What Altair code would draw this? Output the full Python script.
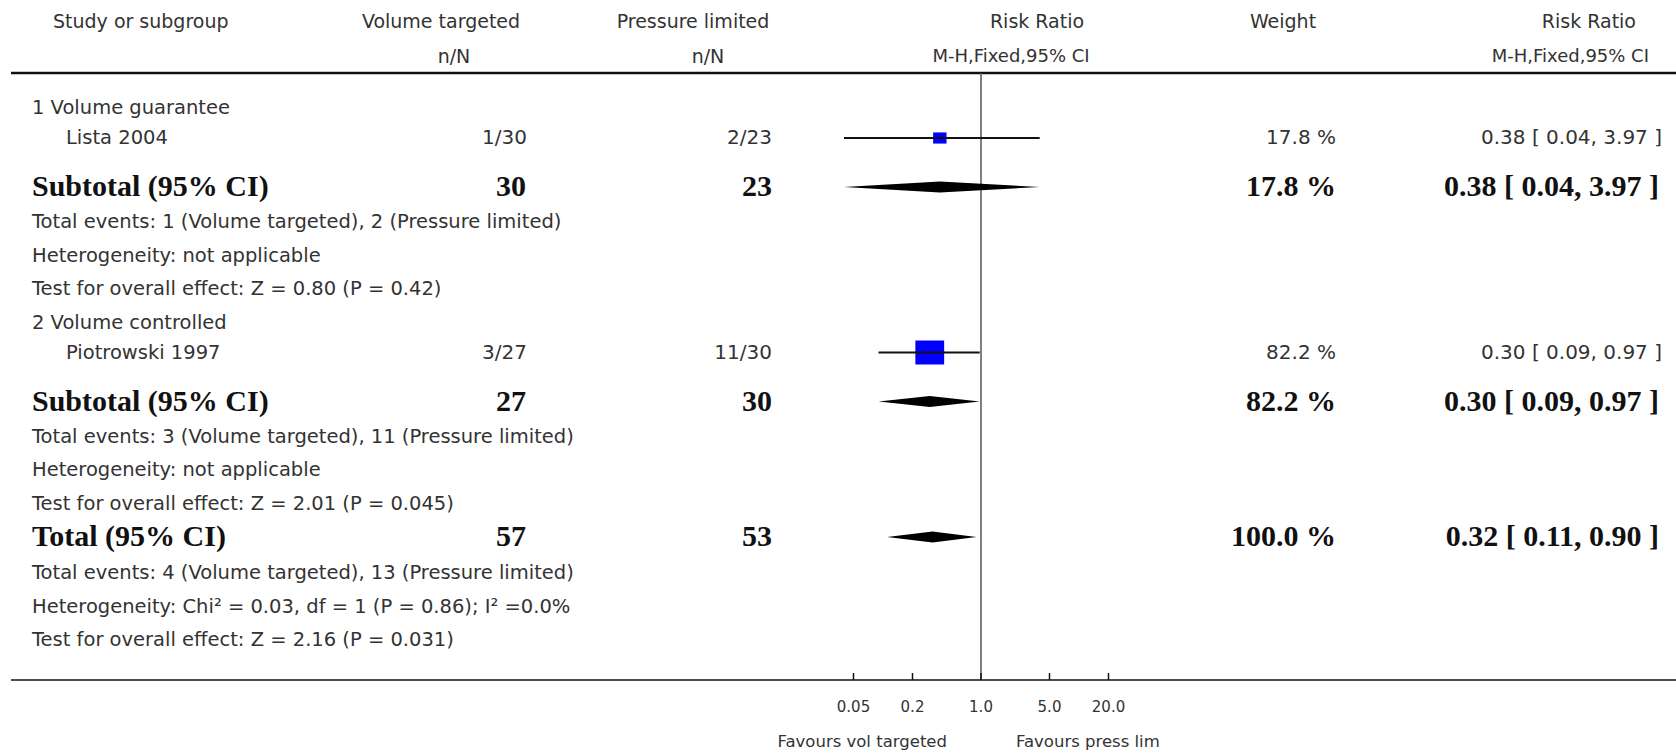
import altair as alt
import pandas as pd

W, H = 1676, 753

# ---------------- data ----------------
group_labels = ["1 Volume guarantee", "2 Volume controlled"]
study_labels = ["Lista 2004", "Piotrowski 1997"]
vt_events = [1, 3]
vt_totals = [30, 27]
pl_events = [2, 11]
pl_totals = [23, 30]
study_rr = [0.38, 0.30]
study_lo = [0.04, 0.09]
study_hi = [3.97, 0.97]
study_weight = [17.8, 82.2]

sub_vt_n = [30, 27]
sub_pl_n = [23, 30]
sub_rr = [0.38, 0.30]
sub_lo = [0.04, 0.09]
sub_hi = [3.97, 0.97]
sub_weight = [17.8, 82.2]
sub_notes = [
    ["Total events: 1 (Volume targeted), 2 (Pressure limited)",
     "Heterogeneity: not applicable",
     "Test for overall effect: Z = 0.80 (P = 0.42)"],
    ["Total events: 3 (Volume targeted), 11 (Pressure limited)",
     "Heterogeneity: not applicable",
     "Test for overall effect: Z = 2.01 (P = 0.045)"],
]
total_vt_n = 57
total_pl_n = 53
total_rr = 0.32
total_lo = 0.11
total_hi = 0.90
total_weight = 100.0
total_notes = [
    "Total events: 4 (Volume targeted), 13 (Pressure limited)",
    "Heterogeneity: Chi\u00b2 = 0.03, df = 1 (P = 0.86); I\u00b2 =0.0%",
    "Test for overall effect: Z = 2.16 (P = 0.031)",
]
axis_ticks = [0.05, 0.2, 1.0, 5.0, 20.0]
axis_tick_labels = ["0.05", "0.2", "1.0", "5.0", "20.0"]
favours_left = "Favours vol targeted"
favours_right = "Favours press lim"

# ---------------- layout ----------------
SANS = "DejaVu Sans"
SERIF = "Liberation Serif"
FH = 19      # header text
FS = 19.5    # note text
FN = 20      # small numbers in study rows
FB = 30      # bold serif
TXT = "#333333"
BOLD = "#111111"

Y_H1, Y_H2, Y_TOP, Y_AXIS = 22, 57, 73, 680
Y_TICKLAB, Y_FAV = 707, 742

def ci_text(r, lo, hi):
    return f"{r:.2f} [ {lo:.2f}, {hi:.2f} ]"

left_rows, study_rows, bold_label_rows = [], [], []
vt_small, pl_small, w_small, rr_small = [], [], [], []
vt_bold, pl_bold, w_bold, rr_bold = [], [], [], []
squares, cis, diamonds = [], [], []

y = 108
for g in range(2):
    left_rows.append((y, group_labels[g])); y += 30
    study_rows.append((y, study_labels[g]))
    vt_small.append((y, f"{vt_events[g]}/{vt_totals[g]}"))
    pl_small.append((y, f"{pl_events[g]}/{pl_totals[g]}"))
    w_small.append((y, f"{study_weight[g]:.1f} %"))
    rr_small.append((y, ci_text(study_rr[g], study_lo[g], study_hi[g])))
    squares.append({"x": study_rr[g], "y": y, "w": study_weight[g]})
    cis.append({"lo": study_lo[g], "hi": study_hi[g], "y": y})
    y += 49
    bold_label_rows.append((y, "Subtotal (95% CI)"))
    vt_bold.append((y, str(sub_vt_n[g])))
    pl_bold.append((y, str(sub_pl_n[g])))
    w_bold.append((y, f"{sub_weight[g]:.1f} %"))
    rr_bold.append((y, ci_text(sub_rr[g], sub_lo[g], sub_hi[g])))
    diamonds.append((f"s{g}", sub_lo[g], sub_rr[g], sub_hi[g], y))
    y += 35
    for note in sub_notes[g]:
        left_rows.append((y, note)); y += 33.5
bold_label_rows.append((y, "Total (95% CI)"))
vt_bold.append((y, str(total_vt_n)))
pl_bold.append((y, str(total_pl_n)))
w_bold.append((y, f"{total_weight:.1f} %"))
rr_bold.append((y, ci_text(total_rr, total_lo, total_hi)))
diamonds.append(("tot", total_lo, total_rr, total_hi, y))
y += 36
for note in total_notes:
    left_rows.append((y, note)); y += 33.5

# x: log scale, 1.0 at x=981 px, ~98 px per decade
X1, PPD = 981, 98.0
xscale = alt.Scale(type="log", domain=[10 ** (-X1 / PPD), 10 ** ((W - X1) / PPD)], nice=False)
yscale = alt.Scale(domain=[0, H], reverse=True, nice=False, zero=False)


def tdf(rows):
    return pd.DataFrame(rows, columns=["y", "text"])


def text_layer(rows, x, align, font=SANS, size=FS, weight="normal", color=TXT):
    return alt.Chart(tdf(rows)).mark_text(
        align=align, baseline="middle", font=font, fontSize=size,
        fontWeight=weight, color=color
    ).encode(
        x=alt.value(x),
        y=alt.Y("y:Q", scale=yscale, axis=None),
        text="text:N",
    )


layers = []

# headers
layers += [
    text_layer([(Y_H1, "Study or subgroup")], 53, "left", size=FH),
    text_layer([(Y_H1, "Volume targeted")], 441, "center", size=FH),
    text_layer([(Y_H2, "n/N")], 454, "center", size=FH),
    text_layer([(Y_H1, "Pressure limited")], 693, "center", size=FH),
    text_layer([(Y_H2, "n/N")], 708, "center", size=FH),
    text_layer([(Y_H1, "Risk Ratio")], 1037, "center", size=FH),
    text_layer([(Y_H2, "M-H,Fixed,95% CI")], 1011, "center", size=18),
    text_layer([(Y_H1, "Weight")], 1283, "center", size=FH),
    text_layer([(Y_H1, "Risk Ratio")], 1636, "right", size=FH),
    text_layer([(Y_H2, "M-H,Fixed,95% CI")], 1649, "right", size=18),
]

# horizontal lines
layers.append(
    alt.Chart(pd.DataFrame({"y": [Y_TOP]})).mark_rule(color="#111", strokeWidth=2.5).encode(
        x=alt.value(11), x2=alt.value(W), y=alt.Y("y:Q", scale=yscale, axis=None))
)
layers.append(
    alt.Chart(pd.DataFrame({"y": [Y_AXIS]})).mark_rule(color="#111", strokeWidth=1.5).encode(
        x=alt.value(11), x2=alt.value(W), y=alt.Y("y:Q", scale=yscale, axis=None))
)

# vertical line of no effect
layers.append(
    alt.Chart(pd.DataFrame({"x": [1.0], "y": [Y_TOP], "y2": [Y_AXIS]})).mark_rule(
        color="#555", strokeWidth=1.5).encode(
        x=alt.X("x:Q", scale=xscale, axis=None),
        y=alt.Y("y:Q", scale=yscale, axis=None), y2="y2:Q")
)

# axis ticks and labels
tick_df = pd.DataFrame({"x": axis_ticks, "label": axis_tick_labels,
                        "y": [Y_AXIS - 7] * len(axis_ticks), "y2": [Y_AXIS] * len(axis_ticks),
                        "yl": [Y_TICKLAB] * len(axis_ticks)})
layers.append(
    alt.Chart(tick_df).mark_rule(color="#111", strokeWidth=1.5).encode(
        x=alt.X("x:Q", scale=xscale, axis=None),
        y=alt.Y("y:Q", scale=yscale, axis=None), y2="y2:Q")
)
layers.append(
    alt.Chart(tick_df).mark_text(font=SANS, fontSize=15, color=TXT, baseline="middle").encode(
        x=alt.X("x:Q", scale=xscale, axis=None),
        y=alt.Y("yl:Q", scale=yscale, axis=None), text="label:N")
)
layers.append(text_layer([(Y_FAV, favours_left)], 947, "right", size=16.5))
layers.append(text_layer([(Y_FAV, favours_right)], 1016, "left", size=16.5))

# diamonds
dh = 5.5
drows = []
for did, lo, est, hi, yc in diamonds:
    drows.append({"id": did, "x": lo, "y": yc, "y2": yc})
    drows.append({"id": did, "x": est, "y": yc - dh, "y2": yc + dh})
    drows.append({"id": did, "x": hi, "y": yc, "y2": yc})
layers.append(
    alt.Chart(pd.DataFrame(drows)).mark_area(color="#000", opacity=1, orient="vertical").encode(
        x=alt.X("x:Q", scale=xscale, axis=None),
        y=alt.Y("y:Q", scale=yscale, axis=None, stack=False), y2="y2:Q",
        detail="id:N")
)

# CI lines and squares
sq_path = "M-1.2,-1H1.2V1H-1.2Z"
layers.append(
    alt.Chart(pd.DataFrame(squares)).mark_point(
        shape=sq_path, filled=True, color="#0000ff", opacity=1, strokeWidth=0).encode(
        x=alt.X("x:Q", scale=xscale, axis=None),
        y=alt.Y("y:Q", scale=yscale, axis=None),
        size=alt.Size("w:Q", scale=alt.Scale(domain=[0, 100], range=[0, 700]), legend=None))
)
layers.append(
    alt.Chart(pd.DataFrame(cis)).mark_rule(color="#111", strokeWidth=2).encode(
        x=alt.X("lo:Q", scale=xscale, axis=None), x2="hi:Q",
        y=alt.Y("y:Q", scale=yscale, axis=None))
)

# table text
layers += [
    text_layer(left_rows, 32, "left"),
    text_layer(study_rows, 66, "left"),
    text_layer(vt_small, 527, "right", size=FN),
    text_layer(pl_small, 772, "right", size=FN),
    text_layer(w_small, 1336, "right", size=FN),
    text_layer(rr_small, 1662, "right", size=FN),
    text_layer(bold_label_rows, 32, "left", font=SERIF, size=FB, weight="bold", color=BOLD),
    text_layer(vt_bold, 526, "right", font=SERIF, size=FB, weight="bold", color=BOLD),
    text_layer(pl_bold, 772, "right", font=SERIF, size=FB, weight="bold", color=BOLD),
    text_layer(w_bold, 1336, "right", font=SERIF, size=FB, weight="bold", color=BOLD),
    text_layer(rr_bold, 1659, "right", font=SERIF, size=FB, weight="bold", color=BOLD),
]

chart = alt.layer(*layers).properties(
    width=W, height=H, padding=0, autosize=alt.AutoSizeParams(type="none"),
    background="white",
).configure_view(strokeWidth=0)

chart.save("out.html", embed_options={"renderer": "svg", "actions": False})
